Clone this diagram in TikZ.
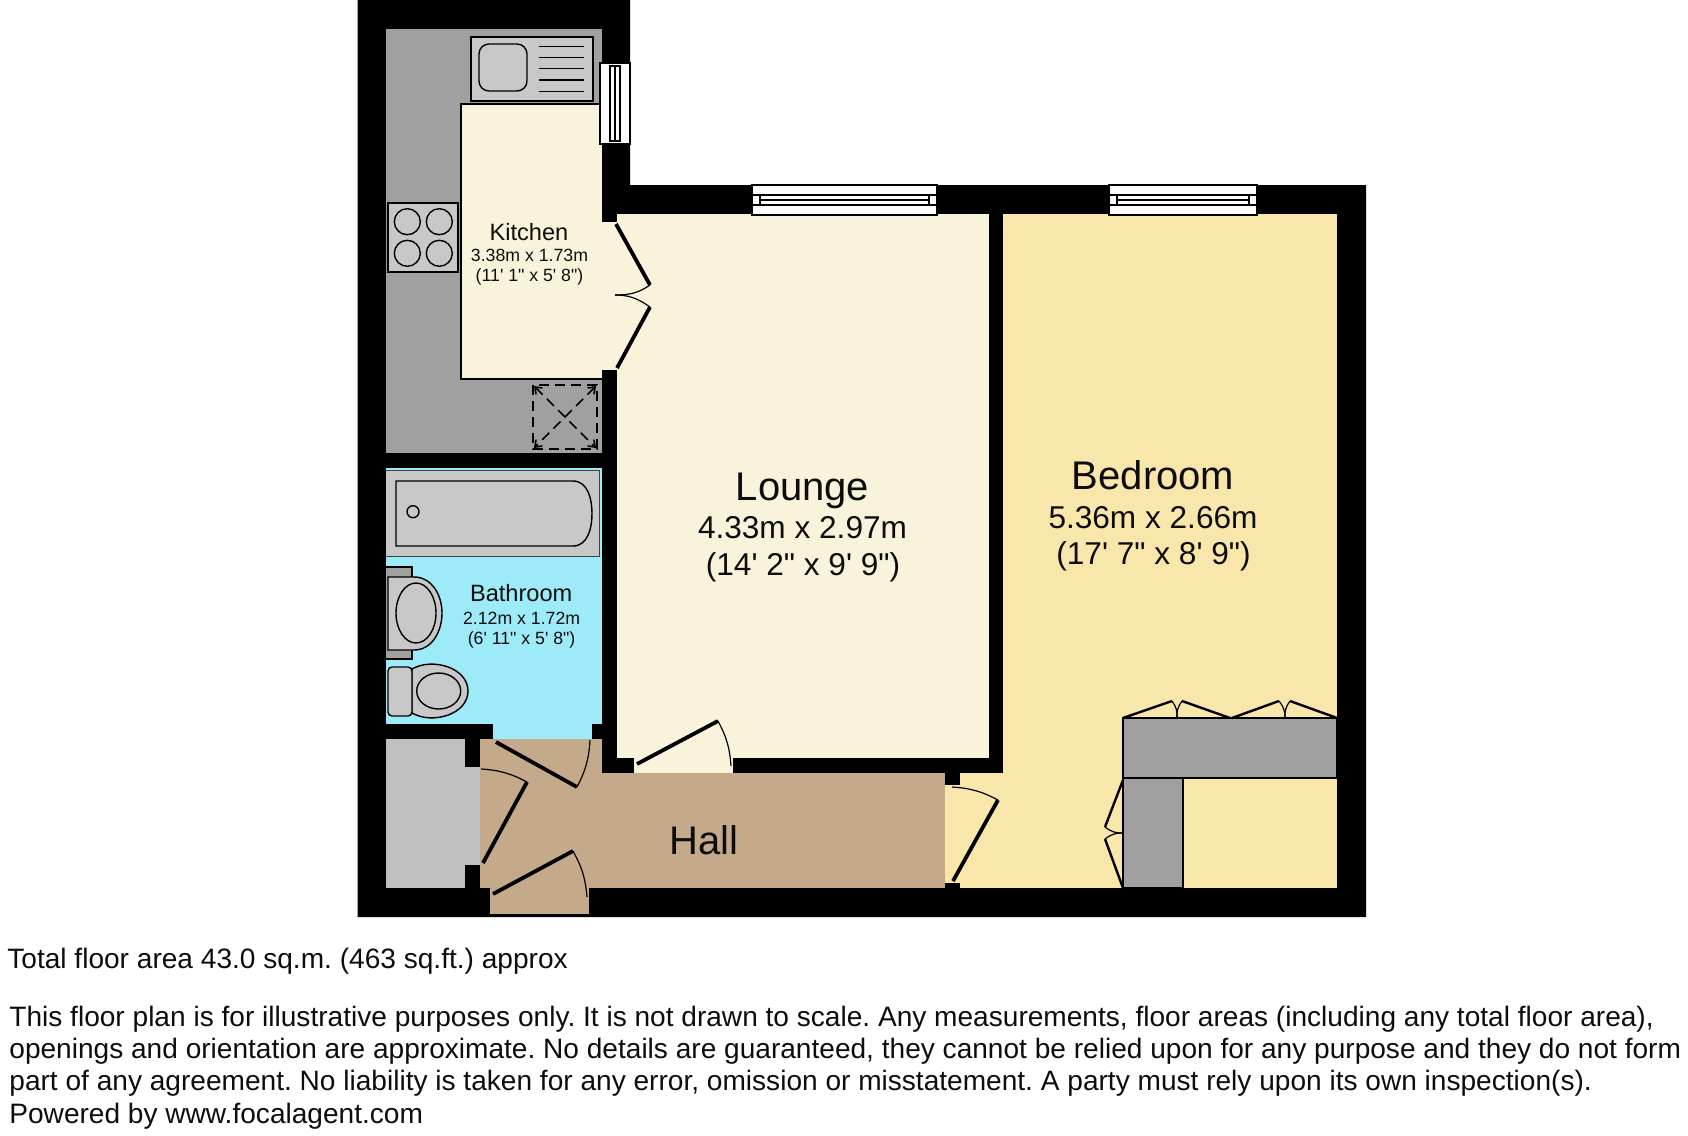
\documentclass[tikz,border=0pt]{standalone}
\usepackage{fontspec}
\setmainfont{Liberation Sans}[Ligatures=TeXOff]
\usetikzlibrary{arrows.meta}
\definecolor{wallblack}{HTML}{000000}
\definecolor{unitgrey}{HTML}{A0A0A0}
\definecolor{fitgrey}{HTML}{C8C8C8}
\definecolor{storegrey}{HTML}{C0C0C0}
\definecolor{creamroom}{HTML}{F9F3DC}
\definecolor{yellowroom}{HTML}{F9E6AB}
\definecolor{bluroom}{HTML}{9DEBF9}
\definecolor{tanroom}{HTML}{C4A98A}
\tikzset{
	thinline/.style={draw=black,line width=0.7pt},
	fitline/.style={draw=black,line width=0.8pt},
	hairline/.style={draw=black!75,line width=0.5pt},
	doorleaf/.style={draw=black,line width=1.9pt},
	doorarc/.style={draw=black,line width=0.6pt},
	foldleaf/.style={draw=black,line width=1.2pt},
	roomname/.style={anchor=base,text=black!95,font=\fontsize{20}{24}\selectfont},
	roomsize/.style={anchor=base,text=black!95,font=\fontsize{15.8}{19}\selectfont},
	smallname/.style={anchor=base,text=black!95,font=\fontsize{11.8}{14}\selectfont},
	smallsize/.style={anchor=base,text=black!95,font=\fontsize{8.85}{11}\selectfont},
	notetext/.style={anchor=base west,text=black!95,font=\frenchspacing\fontsize{14.04}{16}\selectfont,inner sep=0pt}
}
\begin{document}
\begin{tikzpicture}[x=0.5pt,y=-0.5pt]
	\useasboundingbox (0,0) rectangle (1688,1136);
	\fill[wallblack] (357.5,0) -- (630,0) -- (630,185) -- (1366,185) -- (1366,917) -- (357.5,917) -- cycle;
	\fill[unitgrey] (386,29) rectangle (602,453);
	\fill[creamroom] (461,104) rectangle (602,379);
	\fill[creamroom] (602,222) rectangle (617,370);
	\draw[thinline] (602,104) -- (461,104) -- (461,379) -- (602,379);
	\fill[creamroom] (617,214) rectangle (989,758);
	\fill[creamroom] (634,758) rectangle (733,773);
	\fill[yellowroom] (1003,214) rectangle (1337,773);
	\fill[yellowroom] (945,773) rectangle (1337,888);
	\fill[wallblack] (945,773) rectangle (960,785);
	\fill[wallblack] (945,883) rectangle (960,888);
	\fill[bluroom] (386,468) rectangle (602,724);
	\fill[bluroom] (493,724) rectangle (592,739);
	\fill[tanroom] (480,739) rectangle (602,773);
	\fill[tanroom] (480,773) rectangle (945,888);
	\fill[tanroom] (490,888) rectangle (589,914);
	\fill[storegrey] (386,739) rectangle (465,888);
	\fill[storegrey] (465,767) rectangle (480,865);
	\filldraw[fill=fitgrey,thinline] (471,37) rectangle (593,101);
	\filldraw[fill=fitgrey,thinline,rounded corners=5pt] (479,44) rectangle (527,91);
	\foreach \liney in {46.3,57.5,68.7,80,91.3}
		\draw[thinline] (539,\liney) -- (584,\liney);
	\filldraw[fill=fitgrey,thinline] (388,203) rectangle (458,272);
	\foreach \ringx in {407.3,439.3}
		\foreach \ringy in {221.7,253.3}
			\draw[thinline] (\ringx,\ringy) circle (6.5pt);
	\draw[fitline,dash pattern=on 5pt off 3pt] (533,385) rectangle (597,449);
	\draw[fitline,dash pattern=on 5pt off 3pt,{Straight Barb[length=3pt,width=4.5pt]}-{Straight Barb[length=3pt,width=4.5pt]}] (534,386) -- (596,448);
	\draw[fitline,dash pattern=on 5pt off 3pt,{Straight Barb[length=3pt,width=4.5pt]}-{Straight Barb[length=3pt,width=4.5pt]}] (596,386) -- (534,448);
	\fill[fill=white] (600,63) rectangle (630,144);
	\draw[thinline] (600,63) rectangle (630,144);
	\draw[thinline] (610,66) rectangle (620,141);
	\draw[thinline] (615,66) -- (615,141);
	\fill[fitgrey] (386,470) rectangle (599,556);
	\draw[hairline] (386,470) -- (599,470) -- (599,556) -- (386,556);
	\draw[thinline] (396,481) -- (573,481) to[out=0,in=90] (592,513.5) to[out=-90,in=0] (573,546) -- (396,546) -- cycle;
	\draw[thinline] (413,511.7) circle (3pt);
	\filldraw[fill=unitgrey,thinline] (386,567) -- (412,567) -- (412,659) -- (386,659);
	\filldraw[fill=fitgrey,thinline] (388,577) -- (414,577) to[out=0,in=90] (442,613) to[out=-90,in=0] (414,650) -- (388,650) -- cycle;
	\draw[thinline] (416,613) ellipse (10pt and 15pt);
	\filldraw[fill=fitgrey,thinline] (412,669) to[out=30,in=90] (468,691) to[out=-90,in=-30] (412,713) -- cycle;
	\filldraw[fill=fitgrey,thinline,rounded corners=2pt] (388,667) rectangle (412,716);
	\draw[thinline] (438.7,691) ellipse (11pt and 9pt);
	\draw[doorleaf] (616,224) -- (650,285);
	\draw[doorleaf] (650,307) -- (617,368);
	\draw[doorarc] (650,285) to[out=215,in=0] (615,295);
	\draw[doorarc] (650,307) to[out=145,in=0] (615,295);
	\draw[doorleaf] (496,742) -- (577,787);
	\draw[doorarc] (577,787) to[bend right=12] (590,740);
	\draw[doorleaf] (483,863) -- (527,782);
	\draw[doorarc] (527,782) to[bend right=12] (481,769);
	\draw[doorleaf] (493,894) -- (573,851);
	\draw[doorarc] (573,851) to[bend left=12] (587,897);
	\draw[doorleaf] (637,764) -- (718,721);
	\draw[doorarc] (718,721) to[bend left=12] (731,766);
	\draw[doorleaf] (953,881) -- (998,800);
	\draw[doorarc] (998,800) to[bend right=12] (952,787);
	\filldraw[fill=unitgrey,fitline] (1123,778) rectangle (1183,888);
	\filldraw[fill=unitgrey,fitline] (1123,718) rectangle (1337,778);
	\draw[foldleaf] (1123,718) -- (1172,701);
	\draw[foldleaf] (1182,701) -- (1230,718);
	\draw[foldleaf] (1232,718) -- (1279,701);
	\draw[foldleaf] (1290,701) -- (1337,718);
	\draw[doorarc] (1172,701) to[bend left=20] (1177,718);
	\draw[doorarc] (1182,701) to[bend right=20] (1177,718);
	\draw[doorarc] (1279,701) to[bend left=20] (1285,718);
	\draw[doorarc] (1290,701) to[bend right=20] (1285,718);
	\draw[foldleaf] (1123,780) -- (1105,827);
	\draw[foldleaf] (1105,839) -- (1123,888);
	\draw[doorarc] (1105,827) to[bend right=20] (1123,833);
	\draw[doorarc] (1105,839) to[bend left=20] (1123,833);
	\foreach \winl/\winr in {752/937,1109/1257}{
		\fill[fill=white] (\winl,185) rectangle (\winr,215);
		\draw[thinline] (\winl,185) rectangle (\winr,215);
		\draw[thinline] (\winl,195) -- (\winr,195);
		\draw[thinline] (\winl,205) -- (\winr,205);
		\draw[thinline] (\winl+8,195) rectangle (\winr-8,205);
		\draw[thinline] (\winl+8,200) -- (\winr-8,200);
	}
	\node[smallname] (kitchenname) at (529,240) {Kitchen};
	\node[smallsize] (kitchensize) at (529.5,261.7) {3.38m x 1.73m};
	\node[smallsize] (kitchenfeet) at (529.5,281.7) {(11' 1" x 5' 8")};
	\node[roomname] (loungename) at (802.5,500.6) {Lounge};
	\node[roomsize] (loungesize) at (802.5,538) {4.33m x 2.97m};
	\node[roomsize] (loungefeet) at (803,575) {(14' 2" x 9' 9")};
	\node[roomname] (bedroomname) at (1153,489) {Bedroom};
	\node[roomsize] (bedroomsize) at (1153,528.6) {5.36m x 2.66m};
	\node[roomsize] (bedroomfeet) at (1153.5,564) {(17' 7" x 8' 9")};
	\node[smallname] (bathroomname) at (521.2,601.7) {Bathroom};
	\node[smallsize] (bathroomsize) at (521.6,624) {2.12m x 1.72m};
	\node[smallsize] (bathroomfeet) at (521.6,644) {(6' 11" x 5' 8")};
	\node[roomname] (hallname) at (704,854) {Hall};
	\node[notetext] (totalarea) at (7,968) {Total floor area 43.0 sq.m. (463 sq.ft.) approx};
	\node[notetext] (noteone) at (9,1026) {This floor plan is for illustrative purposes only. It is not drawn to scale. Any measurements, floor areas (including any total floor area),};
	\node[notetext] (notetwo) at (9,1058) {openings and orientation are approximate. No details are guaranteed, they cannot be relied upon for any purpose and they do not form};
	\node[notetext] (notethree) at (9,1090.5) {part of any agreement. No liability is taken for any error, omission or misstatement. A party must rely upon its own inspection(s).};
	\node[notetext] (notefour) at (9,1123) {Powered by www.focalagent.com};
\end{tikzpicture}
\end{document}
